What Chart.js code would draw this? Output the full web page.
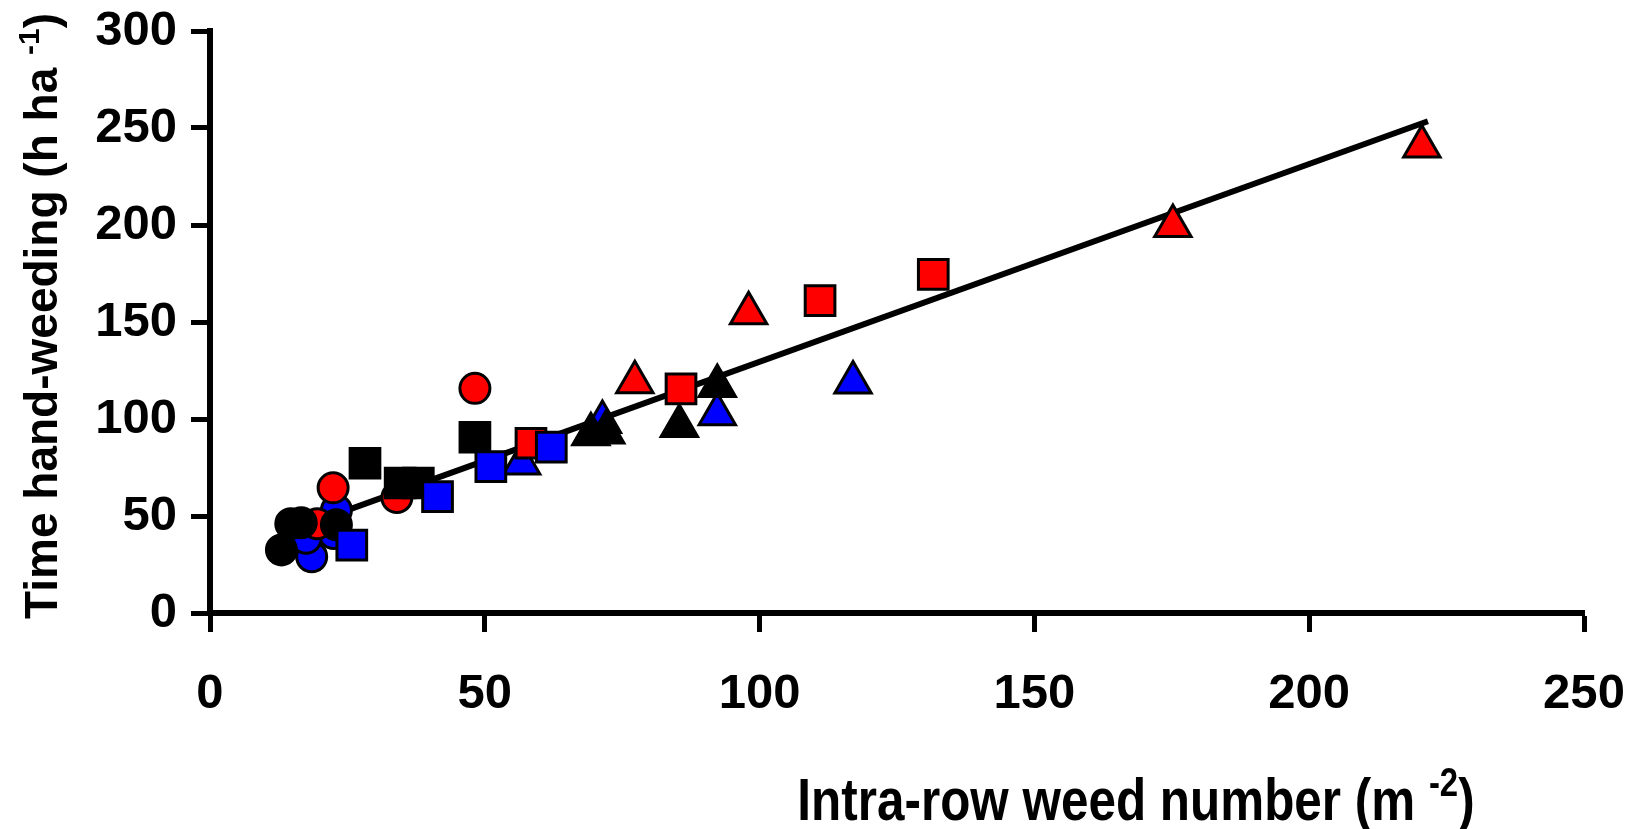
<!DOCTYPE html>
<html>
<head>
<meta charset="utf-8">
<script src="https://cdn.jsdelivr.net/npm/chart.js@4.4.0/dist/chart.umd.min.js"></script>
<style>
  html, body { margin: 0; padding: 0; background: #fff; }
  #wrap { width: 1635px; height: 829px; }
</style>
</head>
<body>
<div id="wrap"><canvas id="weedChart"></canvas></div>
<script>
// axis ranges / ticks
const xTicks = [0, 50, 100, 150, 200, 250];
const yTicks = [0, 50, 100, 150, 200, 250, 300];

// intra-row weed number (m-2) vs time hand-weeding (h ha-1)
const redCircles    = [[48.2, 115.8], [22.4, 64.5], [34.0, 59.5], [19.5, 46.0]];
const blueCircles   = [[23.0, 53.0], [22.5, 41.0], [18.5, 29.0], [17.5, 38.5]];
const blackCircles  = [[23.0, 45.5], [14.7, 46.0], [16.6, 46.5], [13.0, 32.5]];
const redSquares    = [[131.6, 174.5], [111.0, 161.0], [85.7, 115.5], [58.4, 87.5]];
const blueSquares   = [[62.1, 85.5], [51.1, 75.5], [41.4, 60.0], [25.8, 35.0]];
const blackSquares  = [[48.2, 90.6], [28.2, 77.2], [34.6, 67.0], [37.9, 67.0]];
const redTriangles  = [[220.5, 240.5], [175.2, 199.5], [98.0, 154.5], [77.3, 119.0]];
const blueTriangles = [[117.0, 118.8], [92.3, 102.4], [71.4, 98.5], [56.7, 77.0]];
const blackTriangles = [[92.3, 117.0], [85.4, 96.4], [69.3, 92.1], [72.0, 93.0]];

// fitted line end points
const fitLine = [[13.0, 40.8], [221.6, 253.5]];

const yTitle = "Time hand-weeding (h ha ";
const ySup = "-1";
const xTitle = "Intra-row weed number (m ";
const xSup = "-2";

const FONT = '"Liberation Sans", Arial, sans-serif';

function toXY(arr) {
    return arr.map(p => ({ x: p[0], y: p[1] }));
}

function markerSet(label, data, color, style, radius) {
    return {
        label: label,
        data: toXY(data),
        pointStyle: style,
        pointRadius: radius,
        pointHoverRadius: radius,
        pointBackgroundColor: color,
        pointBorderColor: '#000',
        pointBorderWidth: 3,
        showLine: false
    };
}

// text with a superscript part, drawn centred on the current origin
function drawSupText(ctx, main, sup, tail, size) {
    const supSize = Math.round(size * 0.66);
    ctx.font = `bold ${size}px ${FONT}`;
    const wMain = ctx.measureText(main).width;
    const wTail = ctx.measureText(tail).width;
    ctx.font = `bold ${supSize}px ${FONT}`;
    const wSup = ctx.measureText(sup).width;
    const total = wMain + wSup + wTail;
    let x = -total / 2;
    ctx.textAlign = 'left';
    ctx.textBaseline = 'alphabetic';
    ctx.font = `bold ${size}px ${FONT}`;
    ctx.fillText(main, x, 0);
    x += wMain;
    ctx.font = `bold ${supSize}px ${FONT}`;
    ctx.fillText(sup, x, -size * 0.4);
    x += wSup;
    ctx.font = `bold ${size}px ${FONT}`;
    ctx.fillText(tail, x, 0);
    return total;
}

const axisTitles = {
    id: 'axisTitles',
    afterDraw(chart) {
        const ctx = chart.ctx;
        ctx.save();
        ctx.fillStyle = '#000';
        // y title, rotated
        ctx.translate(57, 316);
        ctx.rotate(-Math.PI / 2);
        drawSupText(ctx, yTitle, ySup, ')', 46);
        ctx.restore();

        // x title is set in a condensed face in the original
        ctx.save();
        ctx.fillStyle = '#000';
        ctx.font = `bold 60px ${FONT}`;
        const full = ctx.measureText(xTitle + ')').width + ctx.measureText(xSup).width * 0.66;
        const sx = 677 / full;
        ctx.translate(1136, 820);
        ctx.scale(sx, 1);
        drawSupText(ctx, xTitle, xSup, ')', 60);
        ctx.restore();
    }
};

const datasets = [
    markerSet('blue squares', blueSquares, '#0000FF', 'rect', 21),
    markerSet('red squares', redSquares, '#FF0000', 'rect', 21),
    markerSet('black squares', blackSquares, '#000000', 'rect', 21),
    markerSet('black circles', blackCircles, '#000000', 'circle', 15),
    markerSet('red circles', redCircles, '#FF0000', 'circle', 15),
    markerSet('blue circles', blueCircles, '#0000FF', 'circle', 15),
    markerSet('black triangles', blackTriangles, '#000000', 'triangle', 21),
    markerSet('blue triangles', blueTriangles, '#0000FF', 'triangle', 21),
    markerSet('red triangles', redTriangles, '#FF0000', 'triangle', 21),
    {
        label: 'fit',
        type: 'line',
        data: toXY(fitLine),
        borderColor: '#000',
        borderWidth: 6,
        pointRadius: 0,
        fill: false,
        order: 99
    }
];

new Chart(document.getElementById('weedChart'), {
    type: 'scatter',
    data: { datasets: datasets },
    options: {
        responsive: true,
        maintainAspectRatio: false,
        animation: false,
        layout: { padding: { top: 31, right: 51, left: 0, bottom: 0 } },
        plugins: {
            legend: { display: false },
            tooltip: { enabled: false }
        },
        scales: {
            x: {
                type: 'linear',
                min: xTicks[0],
                max: xTicks[xTicks.length - 1],
                afterBuildTicks: s => { s.ticks = xTicks.map(v => ({ value: v })); },
                afterFit: s => { s.height = 216; s.paddingLeft = 0; s.paddingRight = 0; },
                border: { display: true, color: '#000', width: 6 },
                grid: { drawOnChartArea: false, drawTicks: true, tickLength: 19, tickWidth: 5, tickColor: '#000' },
                ticks: { color: '#000', padding: 33, font: { family: FONT, size: 49, weight: 'bold' } }
            },
            y: {
                type: 'linear',
                min: yTicks[0],
                max: yTicks[yTicks.length - 1],
                afterBuildTicks: s => { s.ticks = yTicks.map(v => ({ value: v })); },
                afterFit: s => { s.width = 210; s.paddingTop = 0; s.paddingBottom = 0; },
                border: { display: true, color: '#000', width: 6 },
                grid: { drawOnChartArea: false, drawTicks: true, tickLength: 19, tickWidth: 5, tickColor: '#000' },
                ticks: { color: '#000', padding: 14, font: { family: FONT, size: 49, weight: 'bold' } }
            }
        }
    },
    plugins: [axisTitles]
});
</script>
</body>
</html>
